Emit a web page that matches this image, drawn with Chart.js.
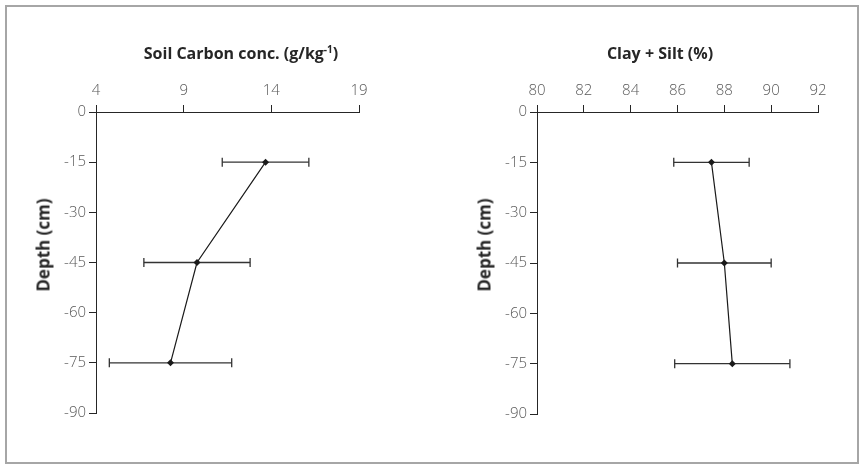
<!DOCTYPE html>
<html>
<head>
    <meta charset="UTF-8">
    <title>Soil carbon and clay + silt by depth</title>
    <script src="https://cdn.jsdelivr.net/npm/chart.js"></script>
    <style>
        body { margin: 0; background: #fff; font-family: "Open Sans", sans-serif; }
        #cadre { position: absolute; left: 5px; top: 5px; width: 850px; height: 455px; border: 2px solid #a6a6a6; }
        canvas { position: absolute; top: 0; }
        #carbonCanvas { left: 0; }
        #argileCanvas { left: 430px; }
        .titre { position: absolute; font-weight: bold; font-size: 16px; color: #262626; white-space: nowrap;
                 transform: translate(-50%, -50%); line-height: 1; }
        .titre sup { font-size: 10px; line-height: 0; }
        .titre-y { font-size: 17px; transform: translate(-50%, -50%) rotate(-90deg); }
    </style>
</head>
<body>
    <div id="cadre"></div>
    <canvas id="carbonCanvas" width="430" height="465"></canvas>
    <canvas id="argileCanvas" width="430" height="465"></canvas>

    <div class="titre" style="left:241px; top:53px;">Soil Carbon conc. (g/kg<sup>-1</sup>)</div>
    <div class="titre" style="left:660px; top:53px;">Clay + Silt (%)</div>
    <div class="titre titre-y" style="left:43px; top:245px;">Depth (cm)</div>
    <div class="titre titre-y" style="left:484px; top:245px;">Depth (cm)</div>

    <script>
        // profondeurs (cm) communes aux deux graphiques
        const profondeurs = [-15, -45, -75];

        // carbone du sol (g/kg-1) : moyenne et erreur
        const carboneMoyenne = [13.67, 9.76, 8.25];
        const carboneErreur = [2.47, 3.03, 3.49];

        // argile + limon (%) : moyenne et erreur
        const argileMoyenne = [87.45, 88.0, 88.34];
        const argileErreur = [1.61, 2.0, 2.46];

        const policeTicks = { family: "'Open Sans', sans-serif", size: 15, weight: 300 };
        const couleurAxe = "#262626";

        function creerGraphique(canvas, moyennes, erreurs, xMin, xMax, pas, marges) {
            const datasets = [{
                data: profondeurs.map((p, i) => ({ x: moyennes[i], y: p })),
                showLine: true,
                borderColor: "#1a1a1a",
                borderWidth: 1.2,
                backgroundColor: "#1a1a1a",
                pointStyle: "rectRot",
                pointRadius: 3.5,
                pointBorderWidth: 0
            }];

            // barres d'erreur horizontales
            profondeurs.forEach((p, i) => {
                datasets.push({
                    data: [{ x: moyennes[i] - erreurs[i], y: p }, { x: moyennes[i] + erreurs[i], y: p }],
                    showLine: true,
                    borderColor: "#333",
                    borderWidth: 1.3,
                    pointStyle: "line",
                    pointRotation: 90,
                    pointRadius: 4.5,
                    pointBorderColor: "#333",
                    pointBorderWidth: 1.3
                });
            });

            return new Chart(canvas, {
                type: "scatter",
                data: { datasets },
                options: {
                    responsive: false,
                    animation: false,
                    layout: { padding: marges },
                    plugins: { legend: { display: false }, tooltip: { enabled: false } },
                    scales: {
                        x: {
                            type: "linear",
                            position: "top",
                            min: xMin,
                            max: xMax,
                            ticks: { stepSize: pas, color: "#595959", font: policeTicks, padding: 5 },
                            grid: { drawOnChartArea: false, drawTicks: true, tickLength: 7, color: couleurAxe },
                            border: { color: couleurAxe, width: 1 },
                            afterFit: s => { s.height = 40; }
                        },
                        y: {
                            type: "linear",
                            min: -90,
                            max: 0,
                            ticks: { stepSize: 15, color: "#595959", font: policeTicks, padding: 3 },
                            grid: { drawOnChartArea: false, drawTicks: true, tickLength: 7, color: couleurAxe },
                            border: { color: couleurAxe, width: 1 },
                            afterFit: s => { s.width = 40; }
                        }
                    }
                }
            });
        }

        creerGraphique(document.getElementById("carbonCanvas"), carboneMoyenne, carboneErreur, 4, 19, 5,
            { left: 56, right: 71, top: 72, bottom: 52 });
        creerGraphique(document.getElementById("argileCanvas"), argileMoyenne, argileErreur, 80, 92, 2,
            { left: 67, right: 42, top: 72, bottom: 51 });
    </script>
</body>
</html>
